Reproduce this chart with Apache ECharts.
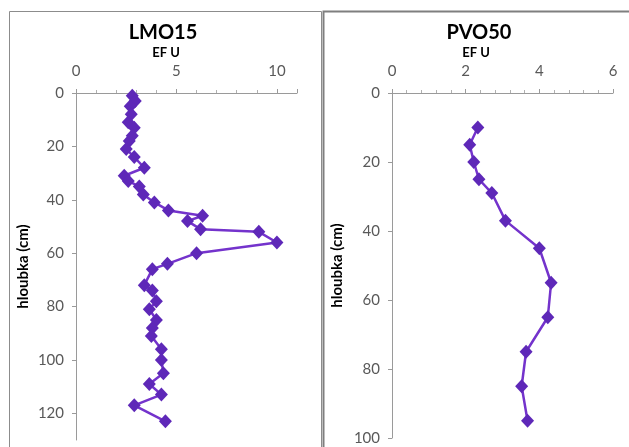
<!DOCTYPE html>
<html style="width: 100%;height:100%;">
<head>
    <meta charset="utf-8">
    <title>EF U profiles</title>
    <script src="https://cdn.jsdelivr.net/npm/echarts@6/dist/echarts.min.js"></script>
    <style>
        body { margin: 0; background: #ffffff; }
        #chart { width: 629px; height: 447px; }
    </style>
</head>
<body>
<div id="chart"></div>
<script>
    // LMO15 profile (depth in cm, EF U)
    const lmoDepth = [1, 3, 5, 8, 11, 13, 16, 18, 21, 24, 28, 31, 33, 35, 38, 41, 44, 46, 48, 51, 52, 56, 60, 64, 66,
        72, 74, 78, 81, 85, 88, 91, 96, 100, 105, 109, 113, 117, 123];
    const lmoEF = [2.8, 2.95, 2.7, 2.75, 2.6, 2.9, 2.8, 2.65, 2.5, 2.9, 3.4, 2.4, 2.6, 3.15, 3.35, 3.9, 4.6, 6.3, 5.55, 6.2, 9.1, 10.0, 6.0, 4.55, 3.8,
        3.4, 3.8, 4.0, 3.65, 4.0, 3.8, 3.75, 4.25, 4.25, 4.35, 3.65, 4.25, 2.9, 4.45];

    // PVO50 profile
    const pvoDepth = [10, 15, 20, 25, 29, 37, 45, 55, 65, 75, 85, 95];
    const pvoEF = [2.33, 2.11, 2.22, 2.36, 2.71, 3.08, 4.0, 4.32, 4.23, 3.64, 3.52, 3.68];

    const chart = echarts.init(document.getElementById('chart'));

    const labelStyle = { color: '#595959', fontFamily: 'Lato', fontSize: 15 };
    const lineColor = '#7433cc';
    const markColor = '#5e28b8';

    function xAxisFor(idx, max, interval) {
        return {
            type: 'value', gridIndex: idx, position: 'top',
            min: 0, max: max, interval: interval,
            axisLine: { show: true, lineStyle: { color: '#9a9a9a' } },
            axisTick: { show: true, inside: false, length: 4, lineStyle: { color: '#9a9a9a' } },
            minorTick: { show: true, splitNumber: 5, length: 3, lineStyle: { color: '#b0b0b0' } },
            splitLine: { show: false },
            axisLabel: Object.assign({ margin: 14, showMaxLabel: max % interval === 0 }, labelStyle)
        };
    }

    function yAxisFor(idx, max, gap) {
        return {
            type: 'value', gridIndex: idx, inverse: true,
            min: 0, max: max, interval: 20,
            name: 'hloubka (cm)', nameLocation: 'middle', nameGap: gap,
            nameTextStyle: { color: '#000000', fontFamily: 'Lato', fontWeight: 'bold', fontSize: 15 },
            axisLine: { show: true, onZero: false, lineStyle: { color: '#9a9a9a' } },
            axisTick: { show: true, length: 4, lineStyle: { color: '#9a9a9a' } },
            splitLine: { show: false },
            axisLabel: Object.assign({ margin: 12, showMaxLabel: max % 20 === 0 }, labelStyle)
        };
    }

    function seriesFor(idx, depth, ef) {
        return {
            type: 'line', xAxisIndex: idx, yAxisIndex: idx,
            data: depth.map((d, i) => [ef[i], d]),
            symbol: 'diamond', symbolSize: [13, 14],
            lineStyle: { color: lineColor, width: 2.5 },
            itemStyle: { color: markColor },
            animation: false
        };
    }

    function caption(text, x, y, size) {
        return {
            type: 'text', x: x, y: y,
            style: {
                text: text, fill: '#000000', fontFamily: 'Lato', fontWeight: 'bold',
                fontSize: size, align: 'center', verticalAlign: 'middle'
            }
        };
    }

    const option = {
        backgroundColor: '#ffffff',
        grid: [
            { left: 76, top: 93, width: 221, height: 347 },
            { left: 392, top: 93, width: 221, height: 345 }
        ],
        xAxis: [xAxisFor(0, 11, 5), xAxisFor(1, 6, 2)],
        yAxis: [yAxisFor(0, 130, 45), yAxisFor(1, 100, 47)],
        series: [seriesFor(0, lmoDepth, lmoEF), seriesFor(1, pvoDepth, pvoEF)],
        graphic: [
            { type: 'rect', shape: { x: 9.5, y: 11.5, width: 312, height: 450 },
              style: { fill: 'none', stroke: '#8c8c8c', lineWidth: 1 }, z: -1 },
            { type: 'rect', shape: { x: 323.5, y: 11.5, width: 320, height: 450 },
              style: { fill: 'none', stroke: '#7f7f7f', lineWidth: 2 }, z: -1 },
            caption('LMO15', 163, 33, 20),
            caption('EF U', 166, 53, 13),
            caption('PVO50', 479, 33, 20),
            caption('EF U', 476, 53, 13)
        ]
    };

    chart.setOption(option);
</script>
</body>
</html>
